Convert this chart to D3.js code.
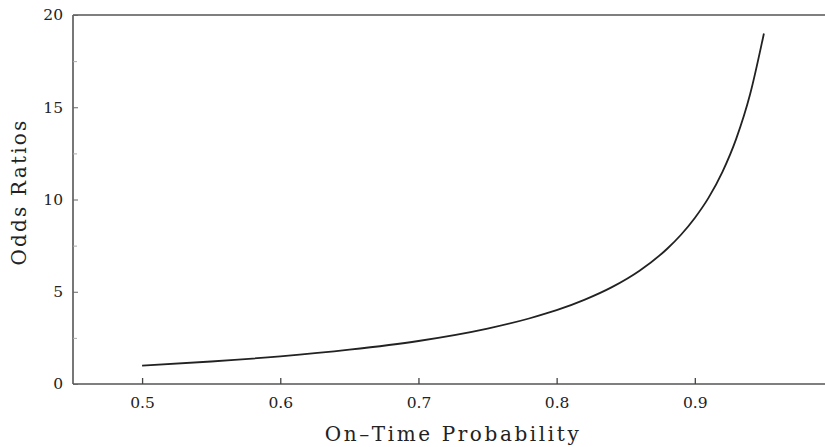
<!DOCTYPE html>
<html><head><meta charset="utf-8">
<script src="https://cdn.jsdelivr.net/npm/d3@7"></script>
<style>body{margin:0;background:#fff}svg{display:block}</style>
</head><body>
<svg id="c" width="825" height="447"></svg>
<script>
const probability = [0.50,0.55,0.60,0.65,0.70,0.75,0.78,0.80,0.82,0.84,0.86,0.88,0.89,0.90,0.91,0.92,0.93,0.94,0.95];
const oddsRatio   = [1.00,1.22,1.50,1.86,2.33,3.00,3.55,4.00,4.56,5.25,6.14,7.33,8.09,9.00,10.1,11.5,13.3,15.7,19.0];
const xTicks = [0.5,0.6,0.7,0.8,0.9];
const xTickLabels = ["0.5","0.6","0.7","0.8","0.9"];
const yTicks = [0,5,10,15,20];
const yMinorTicks = [2.5,7.5,12.5,17.5];
const xTitle = "On\u2013Time Probability";
const yTitle = "Odds Ratios";

const svg = d3.select("#c");
const L = 73, R = 833, T = 15, B = 384;
const x = d3.scaleLinear().domain([0.45,1.0]).range([L,R]);
const y = d3.scaleLinear().domain([0,20]).range([B,T]);
const font = "'DejaVu Serif', 'Liberation Serif', serif";
const ink = "#222";

// frame: left, bottom, top
svg.append("line").attr("x1",L).attr("x2",825).attr("y1",T).attr("y2",T).attr("stroke","#555").attr("stroke-width",1.6);
svg.append("line").attr("x1",L).attr("x2",825).attr("y1",B).attr("y2",B).attr("stroke","#555").attr("stroke-width",1.6);
svg.append("line").attr("x1",L).attr("x2",L).attr("y1",T).attr("y2",B).attr("stroke","#555").attr("stroke-width",1.6);

// x ticks (inward)
const xa = svg.append("g").attr("transform",`translate(0,${B})`)
  .call(d3.axisBottom(x).tickValues(xTicks).tickFormat((d,i)=>xTickLabels[i]).tickSize(-6).tickPadding(13));
xa.select(".domain").remove();
xa.selectAll("line").attr("stroke","#444").attr("stroke-width",1.3);
xa.selectAll("text").attr("font-family",font).attr("font-size",15.5).attr("fill",ink);

// y ticks (inward)
const ya = svg.append("g").attr("transform",`translate(${L},0)`)
  .call(d3.axisLeft(y).tickValues(yTicks).tickSize(-5).tickPadding(10));
ya.select(".domain").remove();
ya.selectAll("line").attr("stroke","#666").attr("stroke-width",1);
ya.selectAll("text").attr("font-family",font).attr("font-size",15.5).attr("fill",ink);
const ym = svg.append("g").attr("transform",`translate(${L},0)`)
  .call(d3.axisLeft(y).tickValues(yMinorTicks).tickSize(-4).tickFormat(""));
ym.select(".domain").remove();
ym.selectAll("line").attr("stroke","#aaa").attr("stroke-width",1);

// curve
svg.append("path")
  .datum(probability.map((p,i)=>[p,oddsRatio[i]]))
  .attr("fill","none").attr("stroke","#222").attr("stroke-width",1.8)
  .attr("d", d3.line().x(d=>x(d[0])).y(d=>y(d[1])).curve(d3.curveMonotoneX));

// titles
svg.append("text").attr("x",453).attr("y",441).attr("text-anchor","middle")
  .attr("font-family",font).attr("font-size",20).attr("letter-spacing",2.6).attr("fill",ink).text(xTitle);
svg.append("text").attr("transform","translate(26,192) rotate(-90)").attr("text-anchor","middle")
  .attr("font-family",font).attr("font-size",20).attr("letter-spacing",2.2).attr("fill",ink).text(yTitle);
</script>
</body></html>
